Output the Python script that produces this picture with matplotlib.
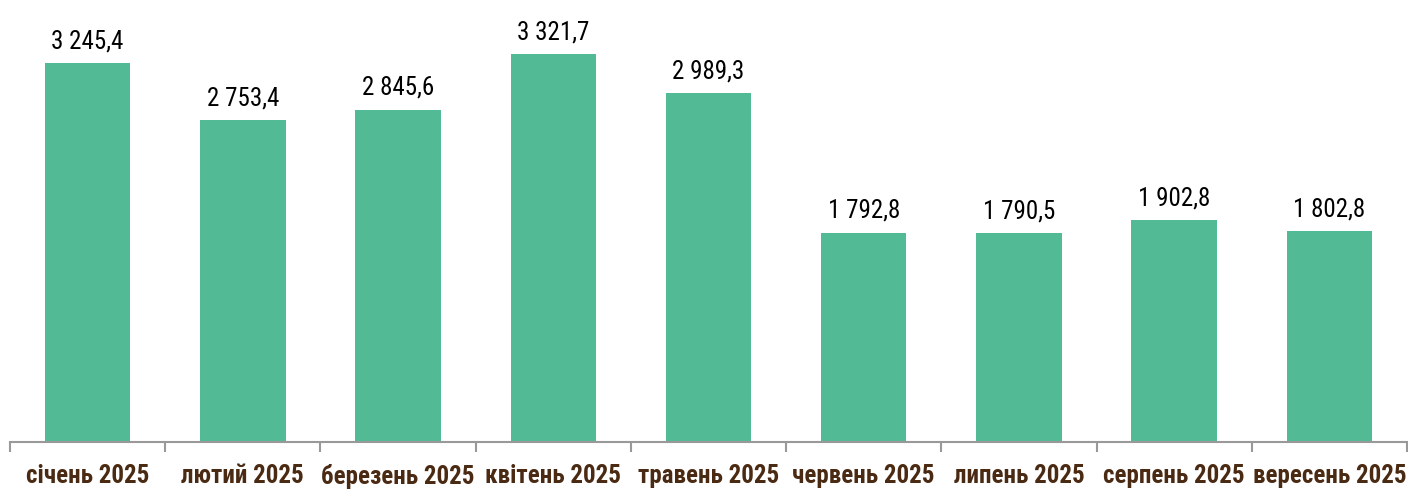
import numpy as np
import matplotlib.pyplot as plt

months = ['січень 2025', 'лютий 2025', 'березень 2025', 'квітень 2025', 'травень 2025',
          'червень 2025', 'липень 2025', 'серпень 2025', 'вересень 2025']
values = [3245.4, 2753.4, 2845.6, 3321.7, 2989.3, 1792.8, 1790.5, 1902.8, 1802.8]

plt.rcParams['font.family'] = ['Roboto Condensed', 'DejaVu Sans']

bar_color = '#52BA94'
tick_color = '#4A2A12'


def fmt(v):
    # thousands separated by a space, decimal comma
    return f"{v:,.1f}".replace(',', ' ').replace('.', ',')


fig = plt.figure(figsize=(14.08, 4.91), dpi=100)
ax = fig.add_axes([10 / 1408, 49 / 491, 1397 / 1408, 442 / 491])

x = np.arange(len(months))
ax.bar(x, values, width=0.55, color=bar_color)
for xi, v in zip(x, values):
    ax.annotate(fmt(v), (xi, v), xytext=(0, 7), textcoords='offset points',
                ha='center', va='bottom', fontsize=18, color='black')

ax.set_xlim(-0.5, len(months) - 0.5)
ax.set_ylim(0, 3784)
ax.set_yticks([])
for s in ['top', 'left', 'right']:
    ax.spines[s].set_visible(False)
ax.spines['bottom'].set_color('#999999')
ax.spines['bottom'].set_linewidth(1.5)

ax.set_xticks(x)
ax.set_xticklabels(months, fontsize=18, fontweight='bold', color=tick_color)
ax.tick_params(axis='x', which='major', length=0, pad=16)
ax.set_xticks(np.arange(-0.5, len(months)), minor=True)
ax.tick_params(axis='x', which='minor', length=7, width=1.5, color='#999999')

fig.savefig('out.png', dpi=100)
